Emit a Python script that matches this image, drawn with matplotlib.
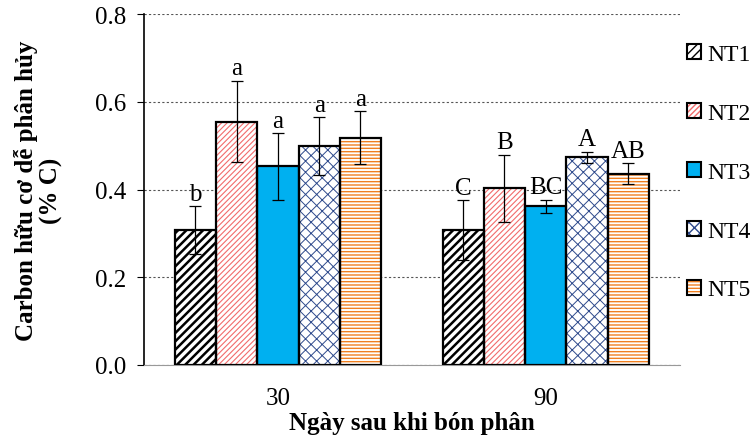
import numpy as np
import matplotlib
matplotlib.use("Agg")
import matplotlib.pyplot as plt
from matplotlib.patches import Patch
from matplotlib.legend_handler import HandlerTuple

# Datos
dias = ["30", "90"]
tratamientos = ["NT1", "NT2", "NT3", "NT4", "NT5"]
media = [
    [0.308, 0.308],  # NT1
    [0.555, 0.403],  # NT2
    [0.453, 0.362],  # NT3
    [0.499, 0.473],  # NT4
    [0.518, 0.436],  # NT5
]
error = [
    [0.054, 0.068],
    [0.093, 0.076],
    [0.076, 0.015],
    [0.066, 0.013],
    [0.060, 0.024],
]
letras = [
    ["b", "C"],
    ["a", "B"],
    ["a", "BC"],
    ["a", "A"],
    ["a", "AB"],
]

# estilo de cada tratamiento: (relleno, color de trama, trama, grosor trama)
estilos = [
    ("white", "black", "////", 1.8),
    ("white", "#f26b6b", "//////", 0.8),
    ("#00b0f0", "#00b0f0", "", 0.8),
    ("white", "#2e4a8c", "xxx", 0.7),
    ("white", "#f07f1f", "-----", 1.0),
]

plt.rcParams["font.family"] = ["Liberation Serif", "DejaVu Serif"]

fig = plt.figure(figsize=(7.56, 4.39), dpi=100)
ax = fig.add_axes([0.1905, 0.1663, 0.7085, 0.7995])

x = np.arange(len(dias))
ancho = 0.154
for i, nt in enumerate(tratamientos):
    pos = x + (i - 2) * ancho
    relleno, ctrama, trama, lw = estilos[i]
    with plt.rc_context({"hatch.linewidth": lw}):
        barras = ax.bar(pos, media[i], ancho, color=relleno, edgecolor=ctrama,
                        hatch=trama, linewidth=0, zorder=2)
        for b in barras:
            if hasattr(b, "set_hatch_linewidth"):
                b.set_hatch_linewidth(lw)
    ax.bar(pos, media[i], ancho, fill=False, edgecolor="black",
           linewidth=1.6, zorder=3)
    ax.errorbar(pos, media[i], yerr=error[i], fmt="none", ecolor="black",
                elinewidth=0.9, capsize=4.5, capthick=0.9, zorder=4)
    for p, m, e, t in zip(pos, media[i], error[i], letras[i]):
        ax.annotate(t, (p, m + e), xytext=(0, 1), textcoords="offset points",
                    ha="center", va="bottom", fontsize=18)

ax.set_ylim(0, 0.8)
ax.set_xlim(-0.5, 1.5)
ax.set_yticks([0, 0.2, 0.4, 0.6, 0.8])
ax.set_yticklabels(["0.0", "0.2", "0.4", "0.6", "0.8"])
ax.set_xticks(x)
ax.set_xticklabels(dias)
ax.tick_params(axis="x", length=0, labelsize=18, pad=16)
ax.tick_params(axis="y", direction="out", length=5, labelsize=18, pad=8)
ax.yaxis.grid(True, linestyle=(0, (2, 2)), color="#555555", linewidth=0.8, zorder=0)
ax.set_axisbelow(True)
for s in ["top", "right"]:
    ax.spines[s].set_visible(False)
ax.spines["bottom"].set_color("#999999")
ax.spines["left"].set_linewidth(1.2)

ax.set_ylabel("Carbon hữu cơ dễ phân hủy\n(% C)", fontsize=18,
              fontweight="bold", labelpad=23, linespacing=1.1)
ax.set_xlabel("Ngày sau khi bón phân", fontsize=18, fontweight="bold", labelpad=1.5)

# leyenda a la derecha: trama en color, borde negro
handles = []
for i, nt in enumerate(tratamientos):
    relleno, ctrama, trama, lw = estilos[i]
    fondo = Patch(facecolor=relleno, edgecolor=ctrama, hatch=trama, linewidth=0)
    borde = Patch(fill=False, edgecolor="black", linewidth=1.5)
    handles.append((fondo, borde))
fig.legend(handles=handles, labels=tratamientos, loc="upper left",
           bbox_to_anchor=(0.909, 0.897),
           handler_map={tuple: HandlerTuple(ndivide=1)},
           frameon=False, fontsize=17, handlelength=0.6, handleheight=0.6,
           handletextpad=0.25, labelspacing=1.6, borderaxespad=0,
           borderpad=0)

fig.savefig("out.png", dpi=100)
